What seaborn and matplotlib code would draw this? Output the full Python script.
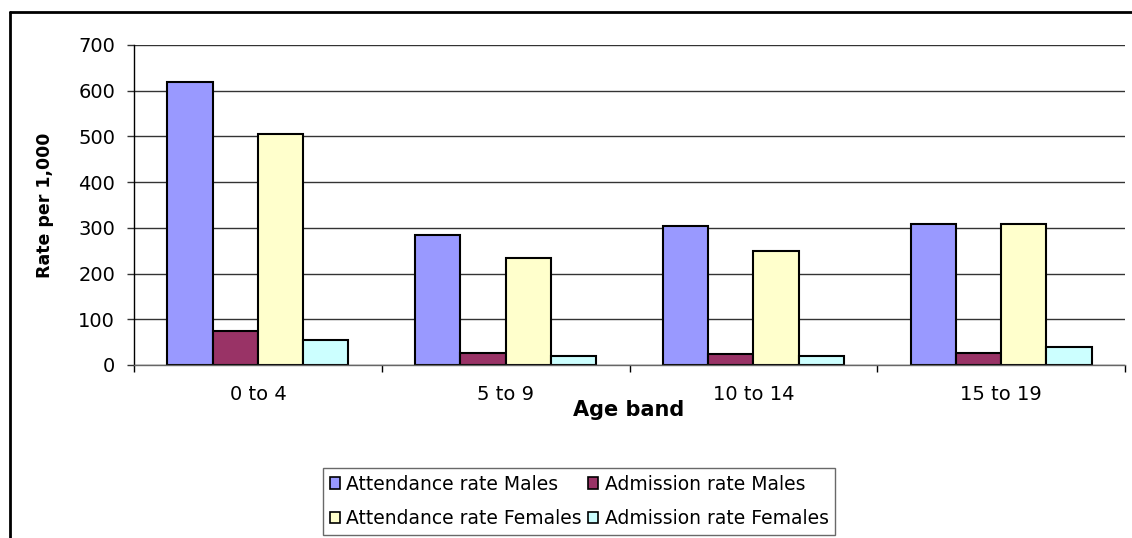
import matplotlib
matplotlib.use("Agg")
import matplotlib.pyplot as plt
import seaborn as sns
import pandas as pd
from matplotlib.lines import Line2D

age_bands = ["0 to 4", "5 to 9", "10 to 14", "15 to 19"]
series_names = ["Attendance rate Males", "Admission rate Males",
                "Attendance rate Females", "Admission rate Females"]
attendance_males = [618, 285, 303, 309]
admission_males = [75, 27, 24, 27]
attendance_females = [505, 234, 250, 309]
admission_females = [55, 20, 20, 40]
y_ticks = [0, 100, 200, 300, 400, 500, 600, 700]

colors = ["#9999FF", "#993366", "#FFFFCC", "#CCFFFF"]

rows = []
for name, vals in zip(series_names, [attendance_males, admission_males,
                                     attendance_females, admission_females]):
    for band, v in zip(age_bands, vals):
        rows.append({"Age band": band, "Series": name, "Rate": v})
df = pd.DataFrame(rows)

sns.set_style("white")
plt.rcParams["font.family"] = ["DejaVu Sans"]
plt.rcParams["text.color"] = "black"
plt.rcParams["xtick.labelcolor"] = "black"
plt.rcParams["ytick.labelcolor"] = "black"

fig = plt.figure(figsize=(11.32, 5.38), dpi=100)
ax = fig.add_axes([134 / 1132, 1 - 365 / 538, (1125 - 134) / 1132, (365 - 45) / 538])

sns.barplot(data=df, x="Age band", y="Rate", hue="Series", order=age_bands,
            hue_order=series_names, palette=colors, width=0.73,
            edgecolor="black", linewidth=1.5, saturation=1, ax=ax, legend=False)

ax.set_ylim(0, 700)
ax.set_xlim(-0.5, len(age_bands) - 0.5)
ax.set_yticks(y_ticks)
ax.set_yticklabels([str(t) for t in y_ticks], fontsize=14, color="black")
ax.yaxis.grid(True, color="#333333", linewidth=1)
ax.set_axisbelow(True)
ax.tick_params(axis="y", direction="out", length=5, width=1, color="#333333",
               pad=8.5, left=True)

ax.set_xticks([i - 0.5 for i in range(len(age_bands) + 1)])
ax.set_xticklabels([])
ax.set_xticks(list(range(len(age_bands))), minor=True)
ax.set_xticklabels(age_bands, minor=True, fontsize=14, color="black")
ax.tick_params(axis="x", which="major", direction="out", length=5, width=1,
               color="black", bottom=True)
ax.tick_params(axis="x", which="minor", length=0, pad=14.5)
ax.set_xlabel("")
ax.set_ylabel("")

for s in ["top", "right"]:
    ax.spines[s].set_visible(False)
ax.spines["left"].set_color("black")
ax.spines["left"].set_linewidth(1)
ax.spines["bottom"].set_color("#666666")
ax.spines["bottom"].set_linewidth(1)

fig.text(45 / 1132, 1 - 205 / 538, "Rate per 1,000", rotation=90,
         ha="center", va="center", fontsize=12.5, fontweight="bold", color="black")
fig.text(629 / 1132, 1 - 410 / 538, "Age band", ha="center", va="center",
         fontsize=15, fontweight="bold", color="black")

handles = [plt.Rectangle((0, 0), 1, 1, facecolor=c, edgecolor="black", linewidth=1.2)
           for c in colors]
order = [0, 2, 1, 3]
leg = fig.legend([handles[i] for i in order], [series_names[i] for i in order],
                 ncol=2, loc="upper left", bbox_to_anchor=(323 / 1132, 1 - 468 / 538),
                 frameon=True, fancybox=False, edgecolor="#444444", fontsize=13.5,
                 handlelength=0.55, handleheight=0.55, handletextpad=0.35,
                 columnspacing=0.3, borderpad=0.35, labelspacing=0.82,
                 borderaxespad=0)
leg.get_frame().set_linewidth(1)
for t in leg.get_texts():
    t.set_color("black")

# figure frame (top and left edges)
fig.add_artist(Line2D([10 / 1132, 1], [1 - 12 / 538, 1 - 12 / 538],
                      transform=fig.transFigure, color="black", linewidth=2))
fig.add_artist(Line2D([10 / 1132, 10 / 1132], [0, 1 - 12 / 538],
                      transform=fig.transFigure, color="black", linewidth=2))

fig.savefig("out.png", dpi=100)
